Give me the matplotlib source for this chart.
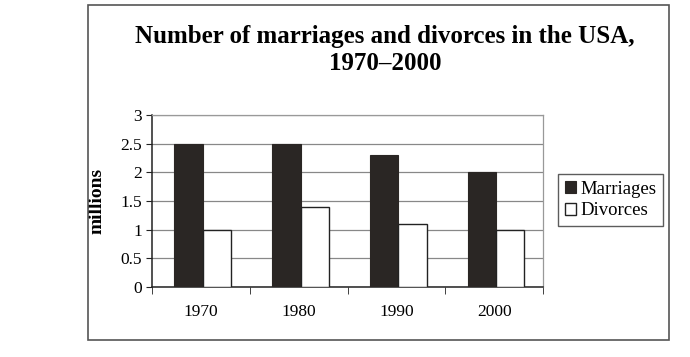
import numpy as np
import matplotlib.pyplot as plt
from matplotlib.patches import Rectangle

# data
years = ['1970', '1980', '1990', '2000']
marriages = [2.5, 2.5, 2.3, 2.0]
divorces = [1.0, 1.4, 1.1, 1.0]

plt.rcParams['font.family'] = ['Liberation Serif', 'DejaVu Serif']

fig = plt.figure(figsize=(6.9, 3.57), dpi=100)

# outer frame round the whole chart
fig.patches.append(Rectangle((88 / 690, 1 - 340 / 357), (669 - 88) / 690, (340 - 5) / 357,
                             transform=fig.transFigure, fill=False,
                             edgecolor='#555555', linewidth=1.2))

ax = fig.add_axes([152 / 690, 1 - 287 / 357, (543 - 152) / 690, (287 - 115) / 357])

x = np.arange(len(years))
w = 0.29
ax.bar(x - w / 2 + 0.02, marriages, w, color='#2a2624', edgecolor='#2a2624', linewidth=0.8,
       label='Marriages', zorder=3)
ax.bar(x + w / 2 + 0.02, divorces, w, color='white', edgecolor='#222222', linewidth=1.0,
       label='Divorces', zorder=3)

ax.set_xlim(-0.5, len(years) - 0.5)
ax.set_ylim(0, 3)
ax.set_yticks(np.arange(0, 3.01, 0.5))
ax.set_yticklabels(['0', '0.5', '1', '1.5', '2', '2.5', '3'], fontsize=12.5)
ax.yaxis.grid(True, color='#888888', linewidth=0.9, zorder=0)

# category labels centred, tick marks at boundaries
ax.set_xticks(x)
ax.set_xticklabels(years, fontsize=12.5)
ax.tick_params(axis='x', length=0, pad=12)
ax.set_xticks(np.arange(-0.5, len(years)), minor=True)
ax.tick_params(axis='x', which='minor', length=5, direction='out', color='#222222')
ax.tick_params(axis='y', length=4, direction='out', color='#222222', pad=3)

for s in ['top', 'right']:
    ax.spines[s].set_color('#999999')
    ax.spines[s].set_linewidth(0.9)
for s in ['left', 'bottom']:
    ax.spines[s].set_color('#222222')
    ax.spines[s].set_linewidth(1.1)

ax.set_ylabel('millions', fontsize=14, fontweight='bold', labelpad=11)

fig.text(385 / 690, 1 - 36 / 357, 'Number of marriages and divorces in the USA,',
         ha='center', va='center', fontsize=18, fontweight='bold')
fig.text(385 / 690, 1 - 63 / 357, '1970\u20132000',
         ha='center', va='center', fontsize=18, fontweight='bold')

leg = ax.legend(loc='center left', bbox_to_anchor=(558 / 690, 1 - 200 / 357),
                bbox_transform=fig.transFigure, fontsize=13.5, frameon=True,
                fancybox=False, edgecolor='#333333', handlelength=0.6,
                handleheight=0.6, handletextpad=0.25, borderpad=0.35,
                labelspacing=0.25, borderaxespad=0)
leg.get_frame().set_linewidth(1.0)

fig.savefig('out.png', dpi=100)
